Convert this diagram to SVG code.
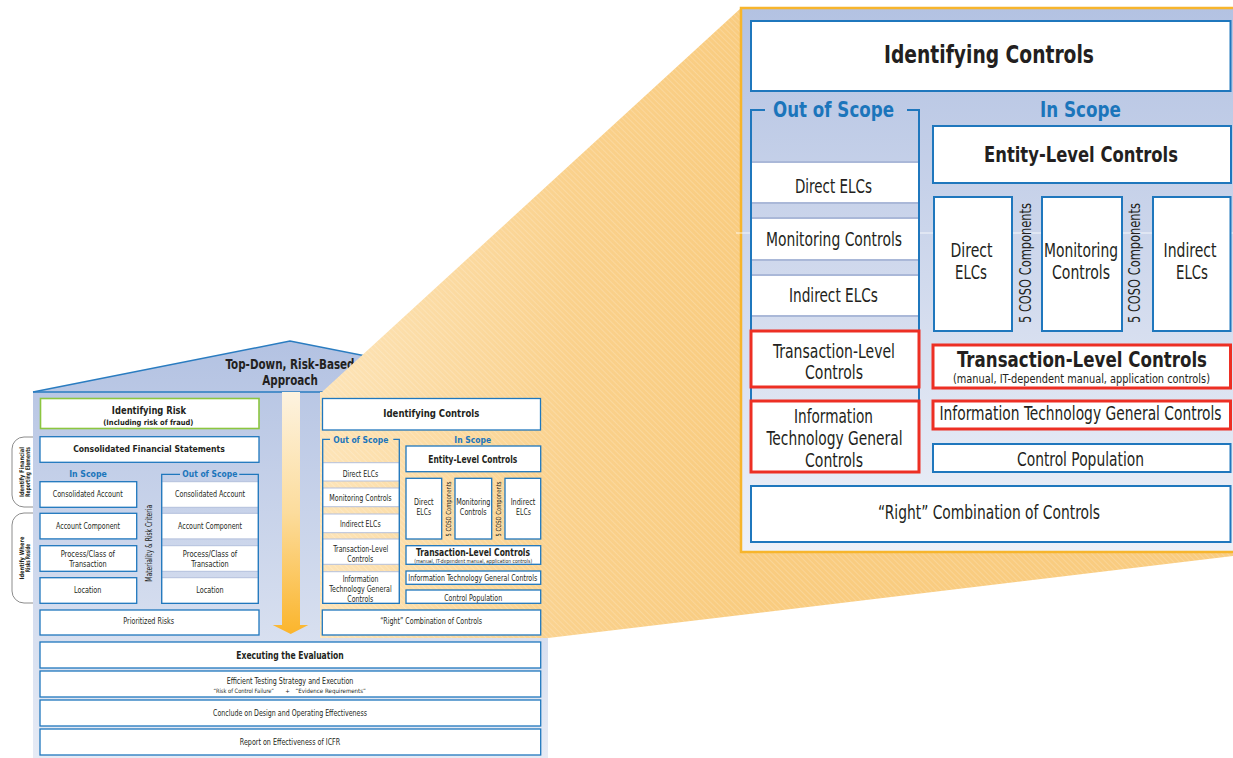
<svg xmlns="http://www.w3.org/2000/svg" width="1233" height="758" viewBox="0 0 1233 758">
<defs>
<linearGradient id="houseG" x1="0" y1="340" x2="0" y2="758" gradientUnits="userSpaceOnUse"><stop offset="0" stop-color="#b3c2e2"/><stop offset="1" stop-color="#e6ebf5"/></linearGradient>
<linearGradient id="bigG" x1="0" y1="8" x2="0" y2="552" gradientUnits="userSpaceOnUse"><stop offset="0" stop-color="#b3c2e2"/><stop offset="1" stop-color="#eef1f8"/></linearGradient>
<linearGradient id="coneG" x1="320" y1="0" x2="741" y2="0" gradientUnits="userSpaceOnUse"><stop offset="0" stop-color="#fde4b8"/><stop offset="0.6" stop-color="#fad18c"/><stop offset="1" stop-color="#f9cc80"/></linearGradient>
<linearGradient id="arrowG" x1="0" y1="392" x2="0" y2="634" gradientUnits="userSpaceOnUse"><stop offset="0" stop-color="#fdf3e0"/><stop offset="0.5" stop-color="#fcdc9c"/><stop offset="1" stop-color="#fbb52c"/></linearGradient>
<pattern id="hatch" width="4" height="4" patternUnits="userSpaceOnUse" patternTransform="rotate(-45)"><line x1="0" y1="0" x2="0" y2="4" stroke="#ffffff" stroke-width="0.8" stroke-opacity="0.45"/></pattern>
</defs>
<style>
text{font-family:"Liberation Sans Narrow","DejaVu Sans Condensed","Roboto Condensed","Liberation Sans",sans-serif;fill:#231f20;text-anchor:middle}
.b{font-weight:bold}
.bl{fill:#1b75bb;font-weight:bold}
.bx{fill:#ffffff;stroke:#1f77bd;stroke-width:1.3}
.bxL{fill:#ffffff;stroke:#1f77bd;stroke-width:2}
.row{fill:#ffffff;stroke:#b3c0dd;stroke-width:1}
.rowL{fill:#ffffff;stroke:#aab8d8;stroke-width:2}
.frame{fill:none;stroke:#1f77bd;stroke-width:1.3}
.frameL{fill:none;stroke:#1f77bd;stroke-width:2}
.red{fill:#ffffff;stroke:#ed2f24;stroke-width:3}
.tab{fill:#ffffff;stroke:#8c8c8c;stroke-width:1}
</style>

<g id="house">
<polygon points="33,392 290,341 548,392 548,758 33,758" fill="url(#houseG)"/>
<polyline points="33,392 290,341 548,392" fill="none" stroke="#2a7cc0" stroke-width="1.5"/>
<line x1="33" y1="392" x2="548" y2="392" stroke="#2a7cc0" stroke-width="1.5"/>
<text class="b" x="290" y="369" font-size="14.5" textLength="129" lengthAdjust="spacingAndGlyphs">Top-Down, Risk-Based</text>
<text class="b" x="290" y="385" font-size="14.5" textLength="55.5" lengthAdjust="spacingAndGlyphs">Approach</text>
</g>

<g id="tab-financial">
<path class="tab" d="M33,437 H24 A12,12 0 0 0 12,449 V495 A12,12 0 0 0 24,507 H33"/>
<text class="b" transform="translate(23.5,472) rotate(-90)" font-size="6.3" textLength="50" lengthAdjust="spacingAndGlyphs">Identify Financial</text>
<text class="b" transform="translate(29.5,472) rotate(-90)" font-size="6.3" textLength="50" lengthAdjust="spacingAndGlyphs">Reporting Elements</text>
</g>
<g id="tab-risks">
<path class="tab" d="M33,513 H24 A12,12 0 0 0 12,525 V591 A12,12 0 0 0 24,603 H33"/>
<text class="b" transform="translate(23.5,558) rotate(-90)" font-size="6.3" textLength="43" lengthAdjust="spacingAndGlyphs">Identify Where</text>
<text class="b" transform="translate(29.5,558) rotate(-90)" font-size="6.3" textLength="28" lengthAdjust="spacingAndGlyphs">Risks Reside</text>
</g>

<g id="identifying-risk">
<rect x="40.5" y="398.5" width="218.5" height="30" fill="#ffffff" stroke="#8cc63f" stroke-width="1.6"/>
<text class="b" x="149" y="414" font-size="10.5" textLength="74.3" lengthAdjust="spacingAndGlyphs">Identifying Risk</text>
<text class="b" x="148.3" y="425" font-size="7.5" textLength="90" lengthAdjust="spacingAndGlyphs">(Including risk of fraud)</text>
</g>
<g id="consolidated-fs">
<rect class="bx" x="40" y="436.7" width="219" height="25.6"/>
<text class="b" x="149" y="452.3" font-size="9.5" textLength="151.7" lengthAdjust="spacingAndGlyphs">Consolidated Financial Statements</text>
</g>
<g id="risk-in-scope">
<text class="bl" x="88" y="477.3" font-size="9.5" textLength="37.7" lengthAdjust="spacingAndGlyphs">In Scope</text>
<rect class="bx" x="40" y="481.7" width="96.7" height="25.6"/>
<text x="87.7" y="496.7" font-size="8.5" textLength="70" lengthAdjust="spacingAndGlyphs">Consolidated Account</text>
<rect class="bx" x="40" y="513.3" width="96.7" height="25.6"/>
<text x="88" y="529" font-size="8.5" textLength="64" lengthAdjust="spacingAndGlyphs">Account Component</text>
<rect class="bx" x="40" y="545.7" width="96.7" height="25.6"/>
<text x="87.8" y="556.7" font-size="8.5" textLength="54.3" lengthAdjust="spacingAndGlyphs">Process/Class of</text>
<text x="88" y="566.7" font-size="8.5" textLength="37.3" lengthAdjust="spacingAndGlyphs">Transaction</text>
<rect class="bx" x="40" y="577.7" width="96.7" height="25.6"/>
<text x="87.7" y="592.7" font-size="8.5" textLength="27.3" lengthAdjust="spacingAndGlyphs">Location</text>
</g>
<g id="risk-out-scope">
<rect class="row" x="161.7" y="481.7" width="96.6" height="25.6"/>
<rect class="row" x="161.7" y="513.3" width="96.6" height="25.6"/>
<rect class="row" x="161.7" y="545.7" width="96.6" height="25.6"/>
<rect class="row" x="161.7" y="577.7" width="96.6" height="25.6"/>
<path class="frame" d="M180,474.3 H161.7 V603.3 H258.3 V474.3 H239.3"/>
<text class="bl" x="209.8" y="477.3" font-size="9.5" textLength="55" lengthAdjust="spacingAndGlyphs">Out of Scope</text>
<text x="210" y="496.7" font-size="8.5" textLength="70" lengthAdjust="spacingAndGlyphs">Consolidated Account</text>
<text x="210" y="529" font-size="8.5" textLength="64" lengthAdjust="spacingAndGlyphs">Account Component</text>
<text x="210" y="556.7" font-size="8.5" textLength="54.3" lengthAdjust="spacingAndGlyphs">Process/Class of</text>
<text x="210" y="566.7" font-size="8.5" textLength="37.3" lengthAdjust="spacingAndGlyphs">Transaction</text>
<text x="210" y="592.7" font-size="8.5" textLength="27.3" lengthAdjust="spacingAndGlyphs">Location</text>
</g>
<g id="materiality">
<text transform="translate(151.5,543.3) rotate(-90)" font-size="8" textLength="76.7" lengthAdjust="spacingAndGlyphs">Materiality &amp; Risk Criteria</text>
</g>
<g id="prioritized-risks">
<rect class="bx" x="40" y="610" width="219" height="25"/>
<text x="148.7" y="624.3" font-size="8.5" textLength="50.7" lengthAdjust="spacingAndGlyphs">Prioritized Risks</text>
</g>

<g id="flow-arrow">
<path d="M282,392 H300 V625 H308.3 L290.7,634 L272.7,625 H282 Z" fill="url(#arrowG)"/>
</g>

<g id="zoom-cone">
<polygon points="322,392 741,8 1233,8 1233,556 548,638 320,638 320,392" fill="url(#coneG)"/>
<polygon points="322,392 741,8 1233,8 1233,556 548,638 320,638 320,392" fill="url(#hatch)"/>
</g>

<g id="small-identifying-controls">
<rect class="bx" x="322.5" y="398.5" width="218" height="31.5"/>
<text class="b" x="431.3" y="417.3" font-size="10.5" textLength="96" lengthAdjust="spacingAndGlyphs">Identifying Controls</text>
</g>
<g id="small-out-scope">
<rect class="row" x="322.7" y="462.7" width="76.6" height="18.3"/>
<rect class="row" x="322.7" y="488" width="76.6" height="18.7"/>
<rect class="row" x="322.7" y="514" width="76.6" height="18.7"/>
<rect class="row" x="322.7" y="539" width="76.6" height="25.3"/>
<rect class="row" x="322.7" y="571.7" width="76.6" height="31.6"/>
<path class="frame" d="M330,439.3 H322.7 V603.3 H399.3 V439.3 H393.3"/>
<text class="bl" x="360.8" y="442.7" font-size="9.5" textLength="55" lengthAdjust="spacingAndGlyphs">Out of Scope</text>
<text x="360.5" y="476.7" font-size="8.5" textLength="35.7" lengthAdjust="spacingAndGlyphs">Direct ELCs</text>
<text x="360.5" y="500.7" font-size="8.5" textLength="62.3" lengthAdjust="spacingAndGlyphs">Monitoring Controls</text>
<text x="360.3" y="526.7" font-size="8.5" textLength="40.7" lengthAdjust="spacingAndGlyphs">Indirect ELCs</text>
<text x="360.8" y="551.7" font-size="8.5" textLength="55" lengthAdjust="spacingAndGlyphs">Transaction-Level</text>
<text x="360.3" y="561.7" font-size="8.5" textLength="26" lengthAdjust="spacingAndGlyphs">Controls</text>
<text x="360.5" y="581.7" font-size="8.5" textLength="35.7" lengthAdjust="spacingAndGlyphs">Information</text>
<text x="360.5" y="591.7" font-size="8.5" textLength="62.3" lengthAdjust="spacingAndGlyphs">Technology General</text>
<text x="360.3" y="601.7" font-size="8.5" textLength="26" lengthAdjust="spacingAndGlyphs">Controls</text>
</g>
<g id="small-in-scope">
<text class="bl" x="472.7" y="442.7" font-size="9.5" textLength="36.7" lengthAdjust="spacingAndGlyphs">In Scope</text>
<rect class="bx" x="406" y="446" width="134.7" height="25.7"/>
<text class="b" x="472.8" y="462.7" font-size="10" textLength="89" lengthAdjust="spacingAndGlyphs">Entity-Level Controls</text>
<rect class="bx" x="406" y="478.3" width="35.7" height="60.7"/>
<text x="423.8" y="505" font-size="8.5" textLength="19.5" lengthAdjust="spacingAndGlyphs">Direct</text>
<text x="423.8" y="515" font-size="8.5" textLength="14.8" lengthAdjust="spacingAndGlyphs">ELCs</text>
<rect class="bx" x="455" y="478.3" width="36.7" height="60.7"/>
<text x="473.3" y="505" font-size="8.5" textLength="34.3" lengthAdjust="spacingAndGlyphs">Monitoring</text>
<text x="473.3" y="515" font-size="8.5" textLength="26.9" lengthAdjust="spacingAndGlyphs">Controls</text>
<rect class="bx" x="505" y="478.3" width="35.7" height="60.7"/>
<text x="523" y="505" font-size="8.5" textLength="24.6" lengthAdjust="spacingAndGlyphs">Indirect</text>
<text x="523.5" y="515" font-size="8.5" textLength="14.8" lengthAdjust="spacingAndGlyphs">ELCs</text>
<text transform="translate(451,509) rotate(-90)" font-size="7" textLength="55" lengthAdjust="spacingAndGlyphs">5 COSO Components</text>
<text transform="translate(501,509) rotate(-90)" font-size="7" textLength="55" lengthAdjust="spacingAndGlyphs">5 COSO Components</text>
<rect class="bx" x="406" y="545.7" width="134.7" height="18.6"/>
<text class="b" x="473" y="556" font-size="10.5" textLength="114" lengthAdjust="spacingAndGlyphs">Transaction-Level Controls</text>
<text x="473.2" y="562.7" font-size="5.5" textLength="118" lengthAdjust="spacingAndGlyphs">(manual, IT-dependent manual, application controls)</text>
<rect class="bx" x="406" y="571" width="134.7" height="13.3"/>
<text x="472.8" y="580.7" font-size="8.5" textLength="129" lengthAdjust="spacingAndGlyphs">Information Technology General Controls</text>
<rect class="bx" x="406" y="590" width="134.7" height="13.3"/>
<text x="473.2" y="600.7" font-size="8.5" textLength="58" lengthAdjust="spacingAndGlyphs">Control Population</text>
</g>
<g id="small-right-combination">
<rect class="bx" x="322.3" y="610" width="218.4" height="25"/>
<text x="431.2" y="624.3" font-size="8.5" textLength="102" lengthAdjust="spacingAndGlyphs">“Right” Combination of Controls</text>
</g>

<g id="executing">
<rect class="bx" x="40" y="642" width="500.7" height="26"/>
<text class="b" x="290" y="659" font-size="10" textLength="107.4" lengthAdjust="spacingAndGlyphs">Executing the Evaluation</text>
</g>
<g id="efficient-testing">
<rect class="bx" x="40" y="671" width="500.7" height="26"/>
<text x="290" y="683.5" font-size="8.5" textLength="126.7" lengthAdjust="spacingAndGlyphs">Efficient Testing Strategy and Execution</text>
<text x="243.7" y="692.5" font-size="6" textLength="60.5" lengthAdjust="spacingAndGlyphs">“Risk of Control Failure”</text>
<text x="287.6" y="692.5" font-size="6">+</text>
<text x="330.7" y="692.5" font-size="6" textLength="70.5" lengthAdjust="spacingAndGlyphs">“Evidence Requirements”</text>
</g>
<g id="conclude">
<rect class="bx" x="40" y="700" width="500.7" height="26"/>
<text x="290" y="716" font-size="8.5" textLength="154" lengthAdjust="spacingAndGlyphs">Conclude on Design and Operating Effectiveness</text>
</g>
<g id="report">
<rect class="bx" x="40" y="729" width="500.7" height="26"/>
<text x="290" y="745" font-size="8.5" textLength="100.5" lengthAdjust="spacingAndGlyphs">Report on Effectiveness of ICFR</text>
</g>

<g id="big-panel">
<rect x="741" y="8" width="500" height="544" fill="url(#bigG)" stroke="#f7b52c" stroke-width="2.5"/>
<line x1="736" y1="233" x2="1233" y2="233" stroke="#ffffff" stroke-width="1" stroke-opacity="0.8"/>
</g>
<g id="big-identifying-controls">
<rect class="bxL" x="751" y="21" width="479.5" height="70"/>
<text class="b" x="989" y="63" font-size="25" textLength="210" lengthAdjust="spacingAndGlyphs">Identifying Controls</text>
</g>
<g id="big-out-scope">
<rect class="rowL" x="751" y="162" width="168" height="41"/>
<rect class="rowL" x="751" y="218" width="168" height="42"/>
<rect class="rowL" x="751" y="275" width="168" height="41"/>
<path class="frameL" d="M765,110 H751 V400 M907,110 H919 V400"/>
<text class="bl" x="833.5" y="117" font-size="22" textLength="121" lengthAdjust="spacingAndGlyphs">Out of Scope</text>
<text x="833.5" y="193" font-size="19" textLength="77" lengthAdjust="spacingAndGlyphs">Direct ELCs</text>
<text x="834" y="246" font-size="19" textLength="136" lengthAdjust="spacingAndGlyphs">Monitoring Controls</text>
<text x="833.5" y="302" font-size="19" textLength="89" lengthAdjust="spacingAndGlyphs">Indirect ELCs</text>
</g>
<g id="big-out-transaction">
<rect class="red" x="751" y="331" width="168" height="56"/>
<text x="834" y="357.5" font-size="19" textLength="122" lengthAdjust="spacingAndGlyphs">Transaction-Level</text>
<text x="834" y="379" font-size="19" textLength="58" lengthAdjust="spacingAndGlyphs">Controls</text>
</g>
<g id="big-out-itgc">
<rect class="red" x="751" y="401" width="168" height="71"/>
<text x="833.5" y="423" font-size="19" textLength="79" lengthAdjust="spacingAndGlyphs">Information</text>
<text x="834.5" y="445" font-size="19" textLength="136" lengthAdjust="spacingAndGlyphs">Technology General</text>
<text x="834" y="466.5" font-size="19" textLength="58" lengthAdjust="spacingAndGlyphs">Controls</text>
</g>
<g id="big-in-scope">
<text class="bl" x="1080.5" y="117" font-size="22" textLength="81" lengthAdjust="spacingAndGlyphs">In Scope</text>
</g>
<g id="big-entity-level">
<rect class="bxL" x="933" y="126" width="298" height="57"/>
<text class="b" x="1081" y="162" font-size="22" textLength="194" lengthAdjust="spacingAndGlyphs">Entity-Level Controls</text>
</g>
<g id="big-direct-elcs">
<rect class="bxL" x="934" y="197" width="78" height="134"/>
<text x="971.5" y="257" font-size="19.5" textLength="42" lengthAdjust="spacingAndGlyphs">Direct</text>
<text x="971" y="279" font-size="19.5" textLength="32" lengthAdjust="spacingAndGlyphs">ELCs</text>
</g>
<g id="big-monitoring">
<rect class="bxL" x="1042" y="197" width="80" height="134"/>
<text x="1081" y="257" font-size="19.5" textLength="74" lengthAdjust="spacingAndGlyphs">Monitoring</text>
<text x="1081" y="279" font-size="19.5" textLength="58" lengthAdjust="spacingAndGlyphs">Controls</text>
</g>
<g id="big-indirect-elcs">
<rect class="bxL" x="1153" y="197" width="77.5" height="134"/>
<text x="1190" y="257" font-size="19.5" textLength="53" lengthAdjust="spacingAndGlyphs">Indirect</text>
<text x="1192" y="279" font-size="19.5" textLength="32" lengthAdjust="spacingAndGlyphs">ELCs</text>
</g>
<g id="big-coso">
<text transform="translate(1031,263) rotate(-90)" font-size="16" textLength="120" lengthAdjust="spacingAndGlyphs">5 COSO Components</text>
<text transform="translate(1139.5,263) rotate(-90)" font-size="16" textLength="120" lengthAdjust="spacingAndGlyphs">5 COSO Components</text>
</g>
<g id="big-in-transaction">
<rect class="red" x="933" y="345" width="297.5" height="43"/>
<text class="b" transform="translate(1082,366.5) scale(1,1.1)" font-size="20" textLength="250" lengthAdjust="spacingAndGlyphs">Transaction-Level Controls</text>
<text transform="translate(1081.5,382.5) scale(1,1.15)" font-size="11.3" textLength="257" lengthAdjust="spacingAndGlyphs">(manual, IT-dependent manual, application controls)</text>
</g>
<g id="big-in-itgc">
<rect class="red" x="933" y="401" width="297.5" height="28"/>
<text transform="translate(1080.5,420) scale(1,1.19)" font-size="16" textLength="282" lengthAdjust="spacingAndGlyphs">Information Technology General Controls</text>
</g>
<g id="big-control-population">
<rect class="bxL" x="933" y="444" width="297.5" height="28"/>
<text x="1080.5" y="465.5" font-size="19" textLength="127" lengthAdjust="spacingAndGlyphs">Control Population</text>
</g>
<g id="big-right-combination">
<rect class="bxL" x="751" y="486" width="479.5" height="56"/>
<text x="989" y="519" font-size="19.5" textLength="222" lengthAdjust="spacingAndGlyphs">“Right” Combination of Controls</text>
</g>
</svg>
